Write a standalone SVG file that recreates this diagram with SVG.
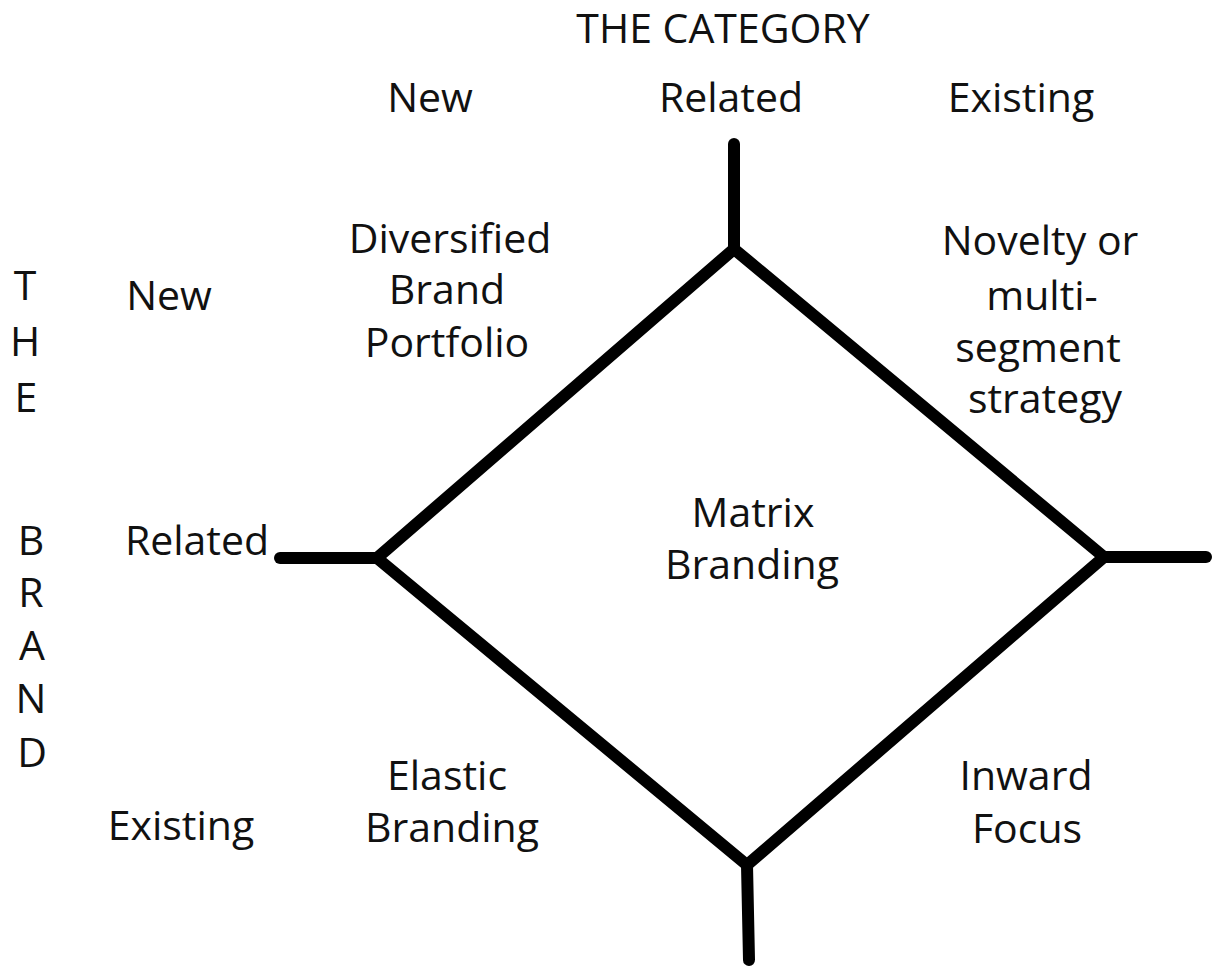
<svg xmlns="http://www.w3.org/2000/svg" width="1215" height="969" viewBox="0 0 1215 969">
<style>
text{font-family:"Open Sans","Noto Sans","Liberation Sans",sans-serif;font-size:41px;fill:#111;text-anchor:middle}
.ln{stroke:#000;stroke-width:12;stroke-linecap:round;stroke-linejoin:round;fill:none}
</style>
<rect width="1215" height="969" fill="#fff"/>
<g id="connectors">
<polygon class="ln" points="734,249 1104,557 747,865 377,558"/>
<line class="ln" x1="734" y1="144" x2="734" y2="249"/>
<line class="ln" x1="280" y1="558" x2="377" y2="558"/>
<line class="ln" x1="1104" y1="557" x2="1206" y2="557"/>
<line class="ln" x1="747" y1="865" x2="749" y2="960"/>
</g>
<g id="title-category"><text x="723" y="43">THE CATEGORY</text></g>
<g id="cat-new"><text x="430" y="112">New</text></g>
<g id="cat-related"><text x="731" y="112">Related</text></g>
<g id="cat-existing"><text x="1021" y="112">Existing</text></g>
<g id="title-brand">
<text x="25" y="300">T</text><text x="25" y="356">H</text><text x="26" y="412">E</text>
<text x="31" y="555">B</text><text x="31" y="607">R</text><text x="32" y="660">A</text><text x="31" y="713">N</text><text x="32" y="767">D</text>
</g>
<g id="brand-new"><text x="169" y="310">New</text></g>
<g id="brand-related"><text x="197" y="555">Related</text></g>
<g id="brand-existing"><text x="181" y="840">Existing</text></g>
<g id="diversified"><text x="450" y="253">Diversified</text><text x="447" y="304">Brand</text><text x="447" y="357">Portfolio</text></g>
<g id="novelty"><text x="1040" y="255">Novelty or</text><text x="1042" y="310">multi-</text><text x="1038" y="362">segment</text><text x="1045" y="413">strategy</text></g>
<g id="matrix"><text x="753" y="527">Matrix</text><text x="752" y="579">Branding</text></g>
<g id="elastic"><text x="447" y="790">Elastic</text><text x="452" y="842">Branding</text></g>
<g id="inward"><text x="1026" y="790">Inward</text><text x="1027" y="843">Focus</text></g>
</svg>
